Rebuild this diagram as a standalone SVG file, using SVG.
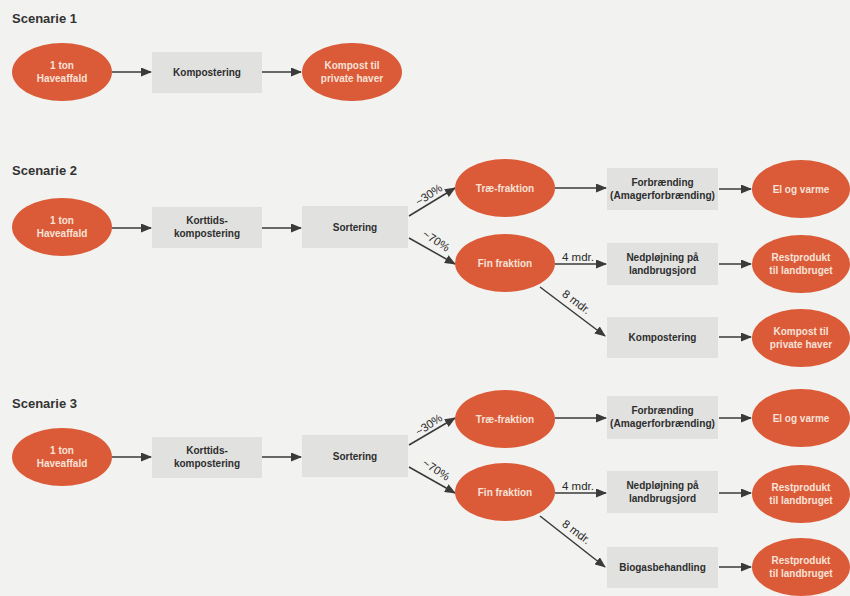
<svg xmlns="http://www.w3.org/2000/svg" width="850" height="596" viewBox="0 0 850 596">
<defs>
<marker id="ah" markerUnits="userSpaceOnUse" markerWidth="11" markerHeight="9" refX="10" refY="4.5" orient="auto">
<path d="M0,0 L11,4.5 L0,9 z" fill="#3a3a3a"/>
</marker>
<style>
.bg{fill:#f2f2f0}
.ov{fill:#db5a37}
.bx{fill:#e1e1e0}
.ot{font-family:"Liberation Sans",Arial,sans-serif;font-size:10px;font-weight:bold;fill:#f7e2d8;text-anchor:middle}
.bt{font-family:"Liberation Sans",Arial,sans-serif;font-size:10px;font-weight:bold;fill:#2e2e2e;text-anchor:middle}
.ttl{font-family:"Liberation Sans",Arial,sans-serif;font-size:13px;font-weight:bold;fill:#333}
.lb{font-family:"Liberation Sans",Arial,sans-serif;font-size:11.5px;fill:#2a2a2a;text-anchor:middle}
.cn line{stroke:#3a3a3a;stroke-width:1.5;marker-end:url(#ah)}
</style>
</defs>
<rect class="bg" x="0" y="0" width="850" height="596"/>

<text class="ttl" x="12" y="23">Scenarie 1</text>
<text class="ttl" x="12" y="175">Scenarie 2</text>
<text class="ttl" x="12" y="408">Scenarie 3</text>

<g id="connectors" class="cn">
<line x1="112" y1="72" x2="151" y2="72"/>
<line x1="262" y1="72" x2="301" y2="72"/>

<line x1="112" y1="228" x2="151" y2="228"/>
<line x1="262" y1="228" x2="301" y2="228"/>
<line x1="409" y1="216" x2="455" y2="188"/>
<line x1="409" y1="238" x2="455" y2="264"/>
<line x1="555" y1="188" x2="606" y2="188"/>
<line x1="719" y1="189" x2="751" y2="189"/>
<line x1="555" y1="264" x2="606" y2="264"/>
<line x1="719" y1="264" x2="751" y2="264"/>
<line x1="540" y1="287" x2="605" y2="336"/>
<line x1="719" y1="337" x2="751" y2="337"/>

<line x1="112" y1="457" x2="151" y2="457"/>
<line x1="262" y1="457" x2="301" y2="457"/>
<line x1="409" y1="445" x2="455" y2="418"/>
<line x1="409" y1="467" x2="455" y2="493"/>
<line x1="555" y1="418" x2="606" y2="418"/>
<line x1="719" y1="418" x2="751" y2="418"/>
<line x1="555" y1="493" x2="606" y2="493"/>
<line x1="719" y1="493" x2="751" y2="493"/>
<line x1="540" y1="516" x2="605" y2="567"/>
<line x1="719" y1="567" x2="751" y2="567"/>

<text class="lb" transform="translate(431,198) rotate(-34)">~30%</text>
<text class="lb" transform="translate(434,244) rotate(33)">~70%</text>
<text class="lb" x="578" y="261">4 mdr.</text>
<text class="lb" transform="translate(574,305) rotate(37)">8 mdr.</text>

<text class="lb" transform="translate(431,428) rotate(-34)">~30%</text>
<text class="lb" transform="translate(434,473) rotate(33)">~70%</text>
<text class="lb" x="578" y="490">4 mdr.</text>
<text class="lb" transform="translate(574,535) rotate(37)">8 mdr.</text>
</g>

<!-- Scenario 1 -->
<g id="s1-haveaffald"><ellipse class="ov" cx="62" cy="72" rx="50" ry="29"/><text class="ot" x="62" y="68.5">1 ton</text><text class="ot" x="62" y="82">Haveaffald</text></g>
<g id="s1-kompostering"><rect class="bx" x="152" y="52" width="110" height="41"/><text class="bt" x="207" y="76">Kompostering</text></g>
<g id="s1-kompost"><ellipse class="ov" cx="352" cy="72" rx="50" ry="29"/><text class="ot" x="352" y="68.5">Kompost til</text><text class="ot" x="352" y="82">private haver</text></g>

<!-- Scenario 2 -->
<g id="s2-haveaffald"><ellipse class="ov" cx="62" cy="227" rx="50" ry="29"/><text class="ot" x="62" y="223.5">1 ton</text><text class="ot" x="62" y="237">Haveaffald</text></g>
<g id="s2-korttids"><rect class="bx" x="152" y="207" width="110" height="41"/><text class="bt" x="207" y="224">Korttids-</text><text class="bt" x="207" y="237">kompostering</text></g>
<g id="s2-sortering"><rect class="bx" x="302" y="206" width="106" height="42"/><text class="bt" x="355" y="231">Sortering</text></g>
<g id="s2-trae"><ellipse class="ov" cx="505" cy="188" rx="50" ry="29"/><text class="ot" x="505" y="191.5">Træ-fraktion</text></g>
<g id="s2-fin"><ellipse class="ov" cx="505" cy="263" rx="50" ry="29"/><text class="ot" x="505" y="266.5">Fin fraktion</text></g>
<g id="s2-forbraending"><rect class="bx" x="607" y="168" width="111" height="42"/><text class="bt" x="662.5" y="186">Forbrænding</text><text class="bt" x="662.5" y="199" textLength="105" lengthAdjust="spacingAndGlyphs">(Amagerforbrænding)</text></g>
<g id="s2-nedpl"><rect class="bx" x="607" y="243" width="111" height="42"/><text class="bt" x="662.5" y="261">Nedpløjning på</text><text class="bt" x="662.5" y="274">landbrugsjord</text></g>
<g id="s2-kompostering"><rect class="bx" x="607" y="317" width="111" height="41"/><text class="bt" x="662.5" y="341">Kompostering</text></g>
<g id="s2-el"><ellipse class="ov" cx="801" cy="189" rx="49" ry="29"/><text class="ot" x="801" y="192.5">El og varme</text></g>
<g id="s2-rest"><ellipse class="ov" cx="801" cy="264" rx="49" ry="29"/><text class="ot" x="801" y="260.5">Restprodukt</text><text class="ot" x="801" y="274">til landbruget</text></g>
<g id="s2-kompost"><ellipse class="ov" cx="801" cy="338" rx="49" ry="29"/><text class="ot" x="801" y="334.5">Kompost til</text><text class="ot" x="801" y="348">private haver</text></g>

<!-- Scenario 3 -->
<g id="s3-haveaffald"><ellipse class="ov" cx="62" cy="457" rx="50" ry="29"/><text class="ot" x="62" y="453.5">1 ton</text><text class="ot" x="62" y="467">Haveaffald</text></g>
<g id="s3-korttids"><rect class="bx" x="152" y="437" width="110" height="41"/><text class="bt" x="207" y="454">Korttids-</text><text class="bt" x="207" y="467">kompostering</text></g>
<g id="s3-sortering"><rect class="bx" x="302" y="435" width="106" height="42"/><text class="bt" x="355" y="460">Sortering</text></g>
<g id="s3-trae"><ellipse class="ov" cx="505" cy="419" rx="50" ry="29"/><text class="ot" x="505" y="422.5">Træ-fraktion</text></g>
<g id="s3-fin"><ellipse class="ov" cx="505" cy="492" rx="50" ry="29"/><text class="ot" x="505" y="495.5">Fin fraktion</text></g>
<g id="s3-forbraending"><rect class="bx" x="607" y="396" width="111" height="43"/><text class="bt" x="662.5" y="414">Forbrænding</text><text class="bt" x="662.5" y="427" textLength="105" lengthAdjust="spacingAndGlyphs">(Amagerforbrænding)</text></g>
<g id="s3-nedpl"><rect class="bx" x="607" y="471" width="111" height="42"/><text class="bt" x="662.5" y="489">Nedpløjning på</text><text class="bt" x="662.5" y="502">landbrugsjord</text></g>
<g id="s3-biogas"><rect class="bx" x="607" y="547" width="111" height="41"/><text class="bt" x="662.5" y="571">Biogasbehandling</text></g>
<g id="s3-el"><ellipse class="ov" cx="801" cy="418" rx="49" ry="29"/><text class="ot" x="801" y="421.5">El og varme</text></g>
<g id="s3-rest"><ellipse class="ov" cx="801" cy="494" rx="49" ry="29"/><text class="ot" x="801" y="490.5">Restprodukt</text><text class="ot" x="801" y="504">til landbruget</text></g>
<g id="s3-rest2"><ellipse class="ov" cx="801" cy="567" rx="49" ry="29"/><text class="ot" x="801" y="563.5">Restprodukt</text><text class="ot" x="801" y="577">til landbruget</text></g>
</svg>
